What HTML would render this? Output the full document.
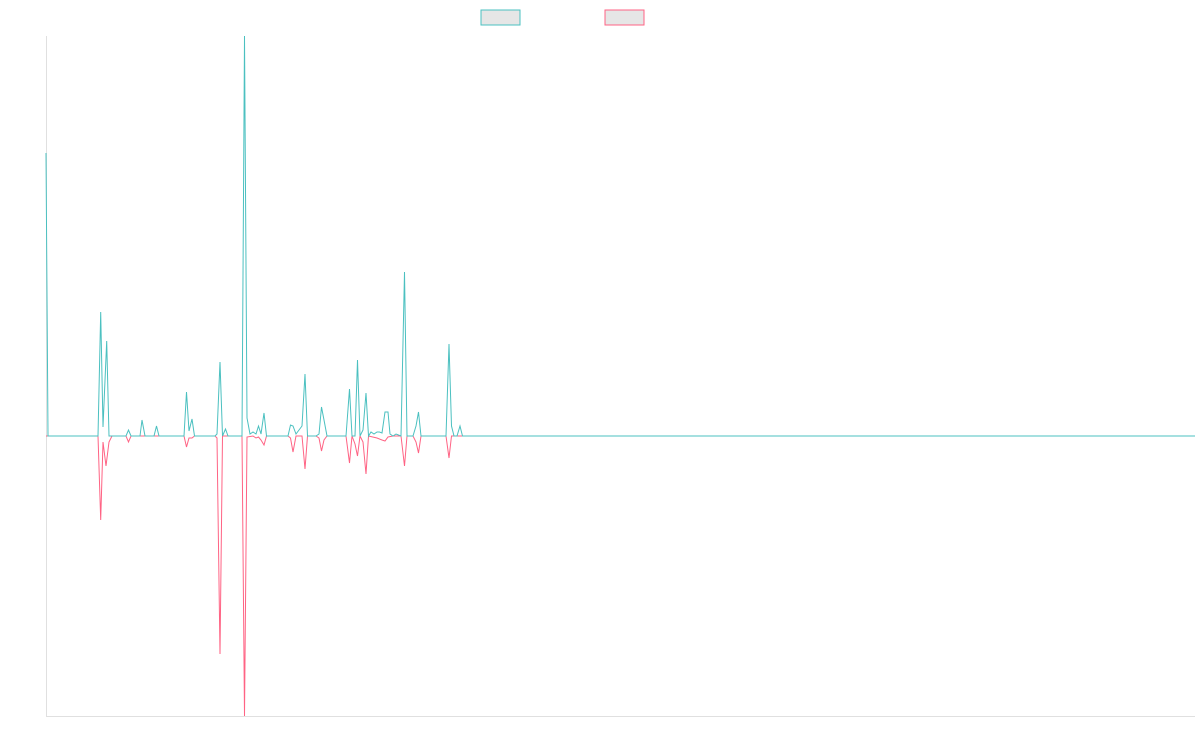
<!DOCTYPE html>
<html><head><style>body{margin:0;background:#fff}svg{display:block}</style></head><body>
<svg width="1200" height="750" xmlns="http://www.w3.org/2000/svg">
<rect x="481" y="10" width="39" height="15" fill="#e6e6e6" stroke="#4bc0c0" stroke-width="1"/>
<rect x="605" y="10" width="39" height="15" fill="#e6e6e6" stroke="#ff6384" stroke-width="1"/>
<line x1="46.5" y1="36" x2="46.5" y2="716" stroke="#e0e0e0"/>
<line x1="46" y1="716.5" x2="1195" y2="716.5" stroke="#e0e0e0"/>
<polyline fill="none" stroke="#ff6384" stroke-width="1" points="46,436 98,436 100.7,520 103,442 106,466 109,442 112,436 126,436 128.5,442 131,436 184,436 186.5,447 189,438 192,438 194.5,436 215,436 217,438 220,654 222.5,436 242,436 244.5,716 247,437 253,436 256,438 258.5,437 261,440 264,445 266.5,436 288,436 290.5,438 293,452 296,436 302,436 305,469 307.5,436 316,436 319,438 321.5,451 324,440 327,436 346,436 349.5,463 352,436 355,444 357.5,456 360,436 363,442 366,474 368.5,436 377,438 382,440 385,441 388,437 393,436 401,436 404.5,466 407,436 413,436 416,442 418.5,453 421,436 446,436 449,458 451.5,436 462.5,436 1195,436"/>
<polyline fill="none" stroke="#4bc0c0" stroke-width="1" points="46,153 48,436 98,436 100.7,312 103,427 106.7,341 109,436 126,436 128.5,430 131,436 140,436 142,420 145,436 154,436 156.5,426 159,436 184,436 186.5,392 189,431 192,419 194.5,436 215,436 217,434 220,362 222.5,436 225.5,429 228,436 242,436 244.5,36 247,418 250,434 253,432 256,434 258.5,426 261,434 264,413 266.5,436 288,436 290.5,425 293,426 296,434 299,430 302,426 305,374 307.5,436 316,436 319,434 321.5,407 324,420 327,436 346,436 349.5,389 352,436 355,436 357.5,360 360,436 363,430 366,393 368.5,436 371,432 374,434 377,432 379.5,432 382,433 385,412 388,412 390,434 393,436 396,434 401,436 404.5,272 407,436 413,436 416,426 418.5,412 421,436 446,436 449,344 451.5,426 454,436 457,436 460,426 462.5,436 1195,436"/>
</svg>
</body></html>
